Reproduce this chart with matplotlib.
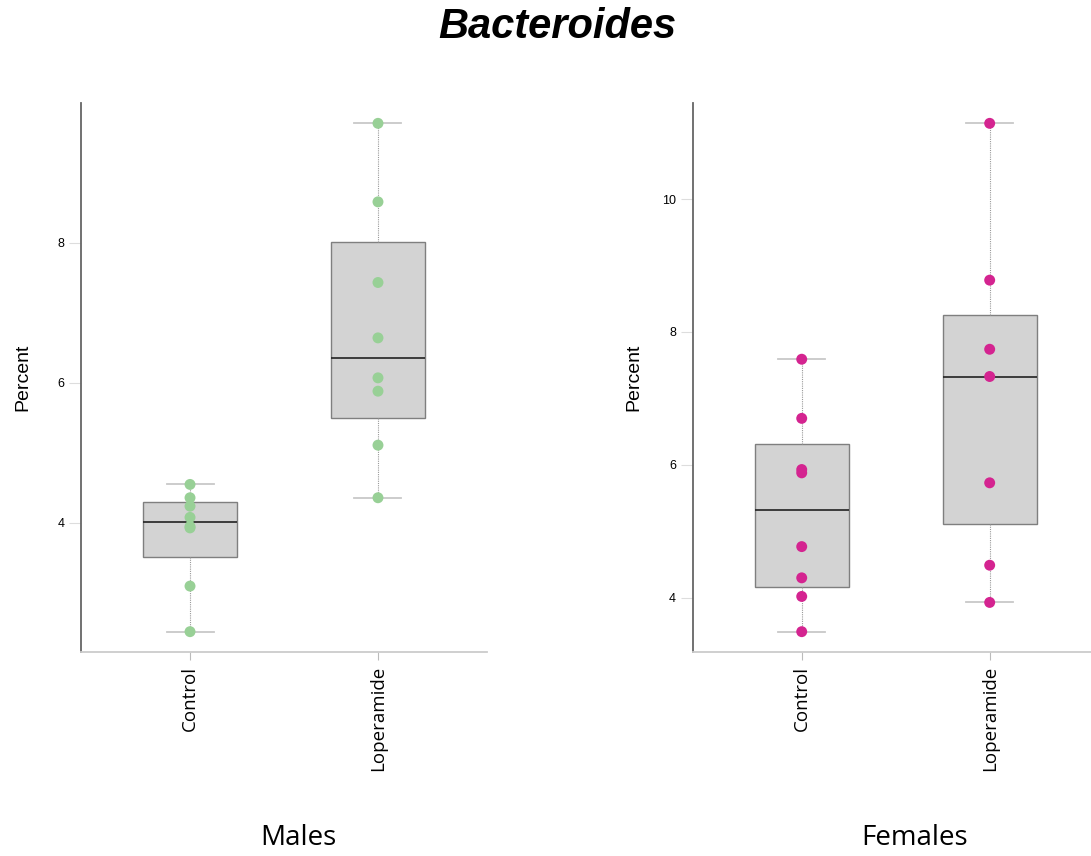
import numpy as np
import matplotlib.pyplot as plt

groups = ['Control', 'Loperamide']

males_control = [2.45, 3.10, 3.93, 3.95, 4.08, 4.24, 4.36, 4.55]
males_loperamide = [4.36, 5.11, 5.88, 6.07, 6.64, 7.43, 8.58, 9.70]
females_control = [3.49, 4.02, 4.30, 4.77, 5.88, 5.93, 6.70, 7.59]
females_loperamide = [3.93, 4.49, 5.73, 7.33, 7.74, 8.78, 11.14]

males_ticks = [4, 6, 8]
females_ticks = [4, 6, 8, 10]


def fivenum(v):
    # Tukey hinges, same as R's boxplot
    v = np.sort(np.asarray(v, dtype=float))
    n = len(v)
    n4 = np.floor((n + 3) / 2) / 2
    d = np.array([1, n4, (n + 1) / 2, n + 1 - n4, n]) - 1
    return 0.5 * (v[np.floor(d).astype(int)] + v[np.ceil(d).astype(int)])


def panel(ax, data, colour, ticks, lpad):
    stats = []
    for name, vals in zip(groups, data):
        lo, q1, med, q3, hi = fivenum(vals)
        stats.append(dict(label=name, whislo=lo, q1=q1, med=med, q3=q3,
                          whishi=hi, fliers=[]))
    ax.bxp(stats, positions=[1, 2], widths=0.5, capwidths=0.25,
           patch_artist=True, showfliers=False,
           boxprops=dict(facecolor='#d3d3d3', edgecolor='#7f7f7f', lw=1.0),
           medianprops=dict(color='#222222', lw=1.2),
           whiskerprops=dict(color='#9a9a9a', lw=0.8, ls=(0, (1, 1))),
           capprops=dict(color='#c8c8c8', lw=1.3), zorder=2)
    for i, vals in enumerate(data):
        ax.scatter(np.full(len(vals), i + 1), vals, s=62, color=colour,
                   edgecolors='none', zorder=3)

    lo = min(min(v) for v in data)
    hi = max(max(v) for v in data)
    pad = 0.04 * (hi - lo)
    ax.set_ylim(lo - pad, hi + pad)
    ax.set_xlim(0.42, 2.58)
    ax.set_yticks(ticks)
    ax.set_xticks([1, 2])
    ax.set_xticklabels(groups, rotation=90, fontsize=13.5, family='Open Sans')
    ax.set_ylabel('Percent', fontsize=14, family='Liberation Sans', labelpad=lpad)

    for s in ['top', 'right']:
        ax.spines[s].set_visible(False)
    ax.spines['left'].set_color('#666666')
    ax.spines['left'].set_linewidth(1.3)
    ax.spines['bottom'].set_color('#cccccc')
    ax.spines['bottom'].set_linewidth(1.3)
    ax.tick_params(axis='y', length=9, width=0.8, color='#dddddd',
                   labelsize=9, pad=3)
    ax.tick_params(axis='x', length=6, width=0.8, color='#bbbbbb', pad=4)
    for t in ax.get_yticklabels():
        t.set_family('Liberation Sans')


fig = plt.figure(figsize=(10.91, 8.56), dpi=100)
ax1 = fig.add_axes([81 / 1091, 1 - 652 / 856, 406 / 1091, 549 / 856])
ax2 = fig.add_axes([692.7 / 1091, 1 - 652 / 856, 406 / 1091, 549 / 856])

panel(ax1, [males_control, males_loperamide], '#98d096', males_ticks, 19)
panel(ax2, [females_control, females_loperamide], '#d42490', females_ticks, 14)

fig.text(557 / 1091, 1 - 27 / 856, 'Bacteroides', ha='center', va='center',
         fontsize=30, fontweight='bold', style='italic', family='Liberation Sans')
fig.text(298 / 1091, 1 - 838 / 856, 'Males', ha='center', va='center',
         fontsize=20, family='Open Sans')
fig.text(915 / 1091, 1 - 838 / 856, 'Females', ha='center', va='center',
         fontsize=20, family='Open Sans')

fig.savefig('out.png', dpi=100)
